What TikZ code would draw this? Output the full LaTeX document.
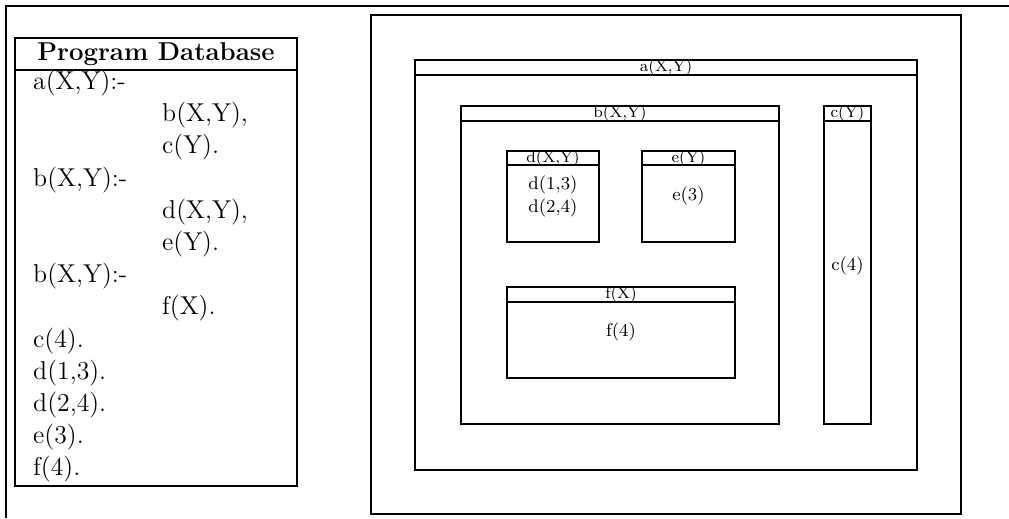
\documentclass[tikz,border=0pt]{standalone}
\usepackage{tikz}
\usepackage{amsmath}

\tikzset{
  hlabel/.style={font=\fontsize{7.5}{8}\selectfont,inner sep=0pt},
  fact/.style={font=\fontsize{8.5}{9}\selectfont,inner sep=0pt},
  line/.style={font=\fontsize{12}{14.5}\selectfont,inner sep=0pt,anchor=west}
}

\begin{document}
\begin{tikzpicture}[x=0.465pt,y=-0.465pt,line width=1.15pt]
        \useasboundingbox (0,0) rectangle (1009,518);
        \draw (1009,6)--(6,6)--(6,518);
        % program database
        \draw (15,38) rectangle (297,486);
        \draw (15,70)--(297,70);
        \node[font=\fontsize{12}{14.5}\selectfont\bfseries,inner sep=0pt] (title) at (156,54) {Program Database};
        \foreach \i/\x/\t in {0/32/{a(X,Y):-},1/161/{b(X,Y),},2/161/{c(Y).},3/32/{b(X,Y):-},4/161/{d(X,Y),},5/161/{e(Y).},6/32/{b(X,Y):-},7/161/{f(X).},8/32/{c(4).},9/32/{d(1,3).},10/32/{d(2,4).},11/32/{e(3).},12/32/{f(4).}}
            \node[line] (l\i) at (\x,83+32.2*\i) {\t};
        % proof tree
        \draw (371,15) rectangle (961,514);
        \draw (415,60) rectangle (917,470);
        \draw (415,75)--(917,75);
        \node[hlabel] (a) at (666,67.5) {a(X,Y)};
        \draw (461,106) rectangle (779,424);
        \draw (461,121)--(779,121);
        \node[hlabel] (b) at (620,113.5) {b(X,Y)};
        \draw (824,106) rectangle (871,424);
        \draw (824,121)--(871,121);
        \node[hlabel] (c) at (847.5,113.5) {c(Y)};
        \node[fact] (c4) at (847.5,266) {c(4)};
        \draw (507,151) rectangle (599,242);
        \draw (507,165)--(599,165);
        \node[hlabel] (d) at (553,158) {d(X,Y)};
        \node[fact] (d13) at (553,185) {d(1,3)};
        \node[fact] (d24) at (553,208) {d(2,4)};
        \draw (642,151) rectangle (735,242);
        \draw (642,165)--(735,165);
        \node[hlabel] (e) at (688.5,158) {e(Y)};
        \node[fact] (e3) at (688.5,196) {e(3)};
        \draw (507,287) rectangle (735,378);
        \draw (507,302)--(735,302);
        \node[hlabel] (f) at (621,294.5) {f(X)};
        \node[fact] (f4) at (621,332) {f(4)};
    \end{tikzpicture}
\end{document}
